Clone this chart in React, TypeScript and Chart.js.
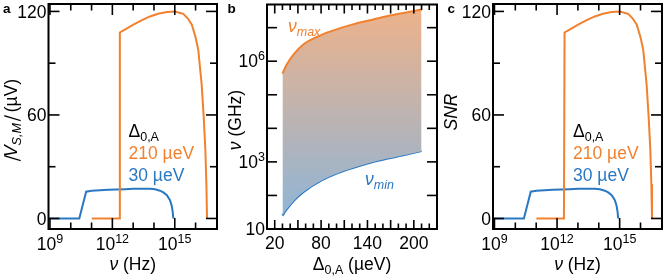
import React, { useEffect, useRef } from 'react';
import { Chart, registerables } from 'chart.js';
Chart.register(...registerables);

const W = 665;
const H = 280;
const FONT = '"Liberation Sans", Arial, Helvetica, sans-serif';
const ORANGE = '#f0812f';
const BLUE = '#2a78c2';
const FS = 17.5;

// ---- Panel a / c data (frequency as log10 of Hz) ----
const freqExp30 = [8.93, 10.41, 10.74, 11.0, 11.41, 11.8, 12.21, 12.6, 13.01, 13.4, 13.81, 14.05, 14.29, 14.45, 14.62, 14.77, 14.85, 14.9, 14.93];
const vsm30 = [0, 0, 15.5, 16.0, 16.3, 16.6, 16.8, 17.0, 17.2, 17.2, 17.2, 16.9, 16.1, 15.1, 13.5, 10.6, 7.5, 4.0, 0];
const freqExp210 = [11.01, 12.33, 12.36, 12.6, 13.01, 13.4, 13.81, 14.2, 14.62, 15.0, 15.41, 15.62, 15.82, 16.0, 16.13, 16.29, 16.39, 16.47, 16.52, 16.55];
const vsm210 = [0, 0, 107.8, 109.5, 112.3, 114.8, 117.1, 118.6, 119.6, 120, 118.6, 116, 112.3, 105, 97.7, 78, 59, 40, 20, 0];
const snr30 = [0, 0, 15.5, 16.0, 16.3, 16.6, 16.8, 17.0, 17.2, 17.2, 17.2, 16.9, 16.1, 15.1, 13.5, 10.6, 7.5, 4.0, 0];
const snr210 = [0, 0, 107.8, 109.5, 112.3, 114.8, 117.1, 118.6, 119.6, 120, 118.6, 116, 112.3, 105, 97.7, 78, 59, 40, 20, 0];

const freqTickExp = [9, 10, 11, 12, 13, 14, 15, 16];
const freqLabelExp = [9, 12, 15];
const linTicks = [0, 30, 60, 90, 120];
const linLabels = [0, 60, 120];

// ---- Panel b data (Δ in µeV, ν as log10 of GHz) ----
const deltaVals = [30, 35, 45, 57, 80, 100, 120, 145, 165, 185, 210];
const vmaxExp = [5.63, 5.88, 6.22, 6.5, 6.78, 6.95, 7.09, 7.23, 7.34, 7.43, 7.54];
const vminExp = [1.4, 1.57, 1.85, 2.1, 2.44, 2.65, 2.81, 2.98, 3.09, 3.19, 3.32];
const deltaTicks = [20, 30, 40, 50, 60, 70, 80, 90, 100, 110, 120, 130, 140, 150, 160, 170, 180, 190, 200, 210, 220];
const deltaMidTicks = [20, 50, 80, 110, 140, 170, 200];
const deltaLabels = [20, 80, 140, 200];
const ghzTickExp = [2, 3, 4, 5, 6, 7];
const ghzLabelExp = [1, 3, 6];

type Part = { t: string; size?: number; italic?: boolean; bold?: boolean; dy?: number; color?: string; skew?: boolean };

function fontOf(p: Part) {
  return `${p.italic ? 'italic ' : ''}${p.bold ? 'bold ' : ''}${p.size ?? FS}px ${FONT}`;
}

function drawRich(ctx: CanvasRenderingContext2D, parts: Part[], x: number, y: number, align: 'left' | 'center' | 'right', color = '#000', rot = 0) {
  ctx.save();
  ctx.translate(x, y);
  if (rot) ctx.rotate(rot);
  ctx.textBaseline = 'alphabetic';
  ctx.textAlign = 'left';
  let total = 0;
  const widths = parts.map((p) => {
    ctx.font = fontOf(p);
    const w = ctx.measureText(p.t).width + (p.skew ? 1.5 : 0);
    total += w;
    return w;
  });
  let cx = align === 'left' ? 0 : align === 'center' ? -total / 2 : -total;
  parts.forEach((p, i) => {
    ctx.font = fontOf(p);
    ctx.fillStyle = p.color ?? color;
    if (p.skew) {
      ctx.save();
      ctx.translate(cx + 1.5, p.dy ?? 0);
      ctx.transform(1, 0, -0.3, 1, 0, 0);
      ctx.fillText(p.t, 0, 0);
      ctx.restore();
    } else {
      ctx.fillText(p.t, cx, p.dy ?? 0);
    }
    cx += widths[i];
  });
  ctx.restore();
}

function line(ctx: CanvasRenderingContext2D, x1: number, y1: number, x2: number, y2: number) {
  ctx.beginPath();
  ctx.moveTo(x1, y1);
  ctx.lineTo(x2, y2);
  ctx.stroke();
}

function frame(ctx: CanvasRenderingContext2D, ca: any) {
  ctx.save();
  ctx.strokeStyle = '#000';
  ctx.lineWidth = 2;
  ctx.strokeRect(ca.left, ca.top, ca.right - ca.left, ca.bottom - ca.top);
  ctx.restore();
}

function xTick(ctx: CanvasRenderingContext2D, ca: any, px: number, len: number) {
  line(ctx, px, ca.bottom, px, ca.bottom - len);
  line(ctx, px, ca.top, px, ca.top + len);
}
function yTick(ctx: CanvasRenderingContext2D, ca: any, py: number, len: number) {
  line(ctx, ca.left, py, ca.left + len, py);
  line(ctx, ca.right, py, ca.right - len, py);
}

function powLabel(e: number): Part[] {
  if (e === 1) return [{ t: '10' }];
  return [{ t: '10' }, { t: String(e), size: 12.5, dy: -7 }];
}

function freqPanelPlugin(id: string, letter: string, yTitle: Part[], yTitleX: number, yTitleY: number) {
  return {
    id,
    afterDraw(chart: any) {
      const ctx: CanvasRenderingContext2D = chart.ctx;
      const ca = chart.chartArea;
      const xs = chart.scales.x;
      const ys = chart.scales.y;
      ctx.save();
      ctx.strokeStyle = '#000';
      ctx.lineWidth = 1.6;
      freqTickExp.forEach((e) => {
        const px = xs.getPixelForValue(Math.pow(10, e));
        xTick(ctx, ca, px, freqLabelExp.includes(e) ? 11 : 6.5);
      });
      linTicks.forEach((v) => {
        const py = ys.getPixelForValue(v);
        yTick(ctx, ca, py, linLabels.includes(v) ? 11 : 7);
      });
      ctx.restore();
      frame(ctx, ca);
      freqLabelExp.forEach((e) => {
        const px = xs.getPixelForValue(Math.pow(10, e));
        drawRich(ctx, powLabel(e), px, 250, 'center');
      });
      linLabels.forEach((v) => {
        const py = ys.getPixelForValue(v);
        drawRich(ctx, [{ t: String(v) }], ca.left - 2, py + 6.2, 'right');
      });
      drawRich(ctx, [{ t: 'ν', italic: true }, { t: ' (Hz)' }], (ca.left + ca.right) / 2, 270, 'center');
      drawRich(ctx, yTitle, yTitleX, yTitleY, 'center', '#000', -Math.PI / 2);
      const lx = ca.left + 80;
      drawRich(ctx, [{ t: 'Δ' }, { t: '0,A', size: 12.5, dy: 4 }], lx, 136.5, 'left');
      drawRich(ctx, [{ t: '210 µeV' }], lx, 158.5, 'left', ORANGE);
      drawRich(ctx, [{ t: '30 µeV' }], lx, 180.5, 'left', BLUE);
      drawRich(ctx, [{ t: letter, bold: true, size: 13.5 }], ca.left - 45.5, 13, 'left');
    },
  };
}

function makeFreqChart(canvas: HTMLCanvasElement, left: number, right: number, d30: number[], d210: number[], plugin: any) {
  return new Chart(canvas, {
    type: 'line',
    data: {
      datasets: [
        {
          data: freqExp210.map((e, i) => ({ x: Math.pow(10, e), y: d210[i] })),
          borderColor: ORANGE,
          borderWidth: 2,
          pointRadius: 0,
          tension: 0,
          fill: false,
        },
        {
          data: freqExp30.map((e, i) => ({ x: Math.pow(10, e), y: d30[i] })),
          borderColor: BLUE,
          borderWidth: 2,
          pointRadius: 0,
          tension: 0,
          fill: false,
        },
      ],
    },
    options: {
      responsive: false,
      animation: false,
      events: [],
      layout: { padding: { left, right: W - right, top: 4, bottom: H - 229 } },
      plugins: { legend: { display: false }, tooltip: { enabled: false } },
      scales: {
        x: { type: 'logarithmic', min: Math.pow(10, 8.93), max: Math.pow(10, 17.03), display: false },
        y: { type: 'linear', min: -6.1, max: 124.3, display: false },
      },
    } as any,
    plugins: [plugin],
  });
}

function makeB(canvas: HTMLCanvasElement) {
  const plugin = {
    id: 'panelB',
    afterDraw(chart: any) {
      const ctx: CanvasRenderingContext2D = chart.ctx;
      const ca = chart.chartArea;
      const xs = chart.scales.x;
      const ys = chart.scales.y;
      ctx.save();
      ctx.strokeStyle = '#000';
      ctx.lineWidth = 1.6;
      deltaTicks.forEach((v) => {
        xTick(ctx, ca, xs.getPixelForValue(v), deltaMidTicks.includes(v) ? 9 : 5.5);
      });
      ghzTickExp.forEach((e) => {
        yTick(ctx, ca, ys.getPixelForValue(Math.pow(10, e)), 10);
      });
      ctx.restore();
      frame(ctx, ca);
      deltaLabels.forEach((v) => {
        drawRich(ctx, [{ t: String(v) }], xs.getPixelForValue(v), 249, 'center');
      });
      ghzLabelExp.forEach((e) => {
        drawRich(ctx, powLabel(e), ca.left - 2, ys.getPixelForValue(Math.pow(10, e)) + 6.2, 'right');
      });
      drawRich(ctx, [{ t: 'Δ' }, { t: '0,A', size: 12.5, dy: 4 }, { t: ' (µeV)' }], (ca.left + ca.right) / 2, 270, 'center');
      drawRich(ctx, [{ t: 'ν', italic: true }, { t: ' (GHz)' }], 241, 120, 'center', '#000', -Math.PI / 2);
      drawRich(ctx, [{ t: 'ν', italic: true }, { t: 'max', italic: true, size: 12.5, dy: 4 }], 288, 31.5, 'left', ORANGE);
      drawRich(ctx, [{ t: 'ν', italic: true }, { t: 'min', italic: true, size: 12.5, dy: 4 }], 365, 185, 'left', BLUE);
      drawRich(ctx, [{ t: 'b', bold: true, size: 13.5 }], 227.5, 13, 'left');
    },
  };
  return new Chart(canvas, {
    type: 'line',
    data: {
      datasets: [
        {
          data: deltaVals.map((d, i) => ({ x: d, y: Math.pow(10, vmaxExp[i]) })),
          borderColor: ORANGE,
          borderWidth: 2,
          pointRadius: 0,
          cubicInterpolationMode: 'monotone',
          fill: '+1',
          backgroundColor: (c: any) => {
            const ch = c.chart;
            const area = ch.chartArea;
            if (!area) return 'rgba(0,0,0,0)';
            const g = ch.ctx.createLinearGradient(0, area.top, 0, area.bottom);
            g.addColorStop(0, '#efb289');
            g.addColorStop(1, '#8ab5da');
            return g;
          },
        },
        {
          data: deltaVals.map((d, i) => ({ x: d, y: Math.pow(10, vminExp[i]) })),
          borderColor: BLUE,
          borderWidth: 2,
          pointRadius: 0,
          cubicInterpolationMode: 'monotone',
          fill: false,
        },
      ],
    },
    options: {
      responsive: false,
      animation: false,
      events: [],
      layout: { padding: { left: 267, right: W - 437, top: 4.5, bottom: H - 229 } },
      plugins: { legend: { display: false }, tooltip: { enabled: false } },
      scales: {
        x: { type: 'linear', min: 10, max: 230, display: false },
        y: { type: 'logarithmic', min: 10, max: Math.pow(10, 7.69), display: false },
      },
    } as any,
    plugins: [plugin],
  });
}

export default function App() {
  const refA = useRef<HTMLCanvasElement>(null);
  const refB = useRef<HTMLCanvasElement>(null);
  const refC = useRef<HTMLCanvasElement>(null);

  useEffect(() => {
    const titleA: Part[] = [
      { t: '|', skew: true },
      { t: 'V', italic: true },
      { t: 'S,M', italic: true, size: 12.5, dy: 4 },
      { t: '|', skew: true },
      { t: ' (µV)' },
    ];
    const titleC: Part[] = [{ t: 'SNR', italic: true }];
    const a = makeFreqChart(refA.current!, 48.5, 217, vsm30, vsm210, freqPanelPlugin('panelA', 'a', titleA, 16.5, 121));
    const b = makeB(refB.current!);
    const c = makeFreqChart(refC.current!, 493, 662, snr30, snr210, freqPanelPlugin('panelC', 'c', titleC, 457, 112));
    return () => {
      a.destroy();
      b.destroy();
      c.destroy();
    };
  }, []);

  const cs: React.CSSProperties = { position: 'absolute', left: 0, top: 0 };
  return (
    <div style={{ position: 'absolute', left: 0, top: 0, width: W, height: H, background: '#fff', overflow: 'hidden' }}>
      <canvas ref={refA} width={W} height={H} style={cs} />
      <canvas ref={refB} width={W} height={H} style={cs} />
      <canvas ref={refC} width={W} height={H} style={cs} />
    </div>
  );
}
